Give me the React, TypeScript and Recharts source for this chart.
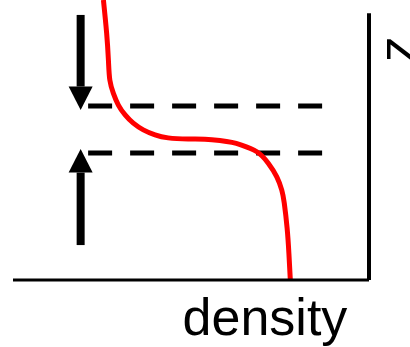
// App.tsx
// Density profile sketch: red curve of density against height z, with the two
// dashed levels and the converging arrows drawn as reference segments.

import { LineChart, Line, XAxis, YAxis, ReferenceLine } from "recharts";

// ─── Data (density and z both on a 0–100 scale) ──────────────────────────────

const DENSITY = [
  25.4, 26.3, 26.8, 27.2, 28.2, 29.6, 31.5, 33.8, 36.6, 39.9, 43.6, 49.2,
  53.9, 58.1, 61.5, 64.2, 68.5, 71.7, 74.1, 75.5, 76.2, 77.0, 77.5, 77.9,
];
const Z = [
  105, 92.6, 82.5, 75.0, 70.0, 65.6, 61.9, 58.8, 56.3, 54.4, 53.3, 52.9,
  52.8, 52.3, 51.6, 50.6, 48.1, 43.8, 38.7, 33.7, 28.8, 19.4, 10.0, 0,
];

const LEVELS = [65.25, 47.6]; // dashed horizontal levels
const LEVEL_SPAN = [21.1, 87.1]; // density range of the dashed lines

// arrows: [density, z from, z to (tip)]
const ARROWS: [number, number, number][] = [
  [19.0, 99.4, 63.75],
  [19.0, 13.1, 49.1],
];

const X_DOMAIN = [0, 100];
const Z_DOMAIN = [0, 105];
const Z_AXIS_TOP = 100;

const data = DENSITY.map((d, i) => ({ density: d, z: Z[i] }));

// ─── Styles ──────────────────────────────────────────────────────────────────

const FONT = "'Liberation Sans', Arial, sans-serif";
const INK = "#000";

// Arrow drawn from (x1,y1) to the tip at (x2,y2)
function ArrowShape(props: Record<string, unknown>) {
  const { x1, y1, x2, y2 } = props as { x1: number; y1: number; x2: number; y2: number };
  const dir = Math.sign(y2 - y1);
  const headLen = 23.5;
  const half = 12;
  const baseY = y2 - dir * headLen;
  return (
    <g>
      <line x1={x1} y1={y1} x2={x2} y2={baseY} stroke={INK} strokeWidth={8} />
      <polygon points={`${x2 - half},${baseY} ${x2 + half},${baseY} ${x2},${y2}`} fill={INK} />
    </g>
  );
}

function DensityLabel(props: { viewBox?: { x: number; y: number } }) {
  const vb = props.viewBox ?? { x: 0, y: 0 };
  return (
    <text x={vb.x + 252} y={vb.y + 55} textAnchor="middle" fontSize={52} fontFamily={FONT} fill={INK}>
      density
    </text>
  );
}

// z sits half off the right edge, as in the source figure
function ZLabel(props: { viewBox?: { x: number; y: number } }) {
  const vb = props.viewBox ?? { x: 0, y: 0 };
  const x = vb.x + 45;
  const y = vb.y + 49;
  return (
    <text x={x} y={y} transform={`rotate(-90, ${x}, ${y})`} textAnchor="middle" fontSize={52} fontFamily={FONT} fill={INK}>
      z
    </text>
  );
}

export default function App() {
  return (
    <div style={{ position: "absolute", left: 0, top: 0, background: "#fff" }}>
      <LineChart width={410} height={347} data={data} margin={{ top: 0, right: 0, bottom: 0, left: 13 }}>
        <XAxis
          dataKey="density"
          type="number"
          domain={X_DOMAIN}
          tick={false}
          tickLine={false}
          axisLine={{ stroke: INK, strokeWidth: 3 }}
          height={67}
          label={<DensityLabel />}
        />
        <YAxis
          type="number"
          orientation="right"
          domain={Z_DOMAIN}
          tick={false}
          tickLine={false}
          axisLine={false}
          width={41}
          label={<ZLabel />}
        />
        {/* right-hand z axis line */}
        <ReferenceLine
          segment={[{ x: X_DOMAIN[1], y: 0 }, { x: X_DOMAIN[1], y: Z_AXIS_TOP }]}
          stroke={INK}
          strokeWidth={4}
          ifOverflow="visible"
        />
        {LEVELS.map((lv) => (
          <ReferenceLine
            key={lv}
            segment={[{ x: LEVEL_SPAN[0], y: lv }, { x: LEVEL_SPAN[1], y: lv }]}
            stroke={INK}
            strokeWidth={5}
            strokeDasharray="24 18"
          />
        ))}
        {ARROWS.map(([x, from, to], i) => (
          <ReferenceLine
            key={i}
            segment={[{ x, y: from }, { x, y: to }]}
            shape={ArrowShape}
          />
        ))}
        <Line
          dataKey="z"
          type="natural"
          stroke="#ff0000"
          strokeWidth={5}
          dot={false}
          activeDot={false}
          isAnimationActive={false}
        />
      </LineChart>
    </div>
  );
}
